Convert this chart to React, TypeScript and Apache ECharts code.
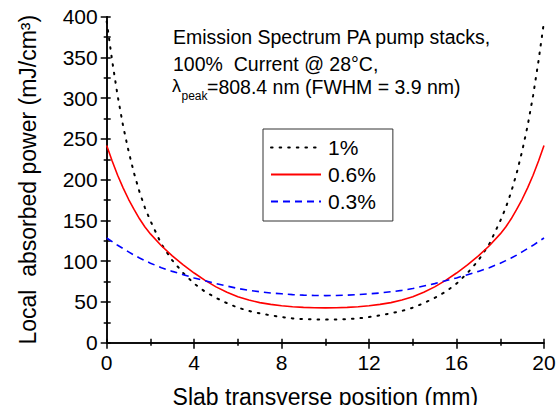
import React, { useEffect, useRef } from "react";
import * as echarts from "echarts";

// Slab transverse position (mm)
const positions = [
  0, 0.25, 0.5, 0.75, 1, 1.25, 1.5, 1.75, 2, 2.5, 3, 3.5, 4, 4.5, 5, 5.5, 6, 6.5, 7, 7.5, 8, 8.5, 9, 9.5, 10,
  10.5, 11, 11.5, 12, 12.5, 13, 13.5, 14, 14.5, 15, 15.5, 16, 16.5, 17, 17.5, 18, 18.25, 18.5, 18.75, 19, 19.25, 19.5, 19.75, 20,
];

// Local absorbed power (mJ/cm^3)
const doping1 = [
  394, 346, 303, 266, 235, 208, 185, 165.5, 149.5, 121, 101, 85.5, 72.5, 62.5, 55, 48.5, 43, 39, 36, 33.5, 31.5, 29.8, 29, 28.5, 28.3,
  28.5, 29, 29.8, 31.5, 33.5, 36, 39, 43, 48.5, 55, 62.5, 72.5, 85.5, 101, 121, 149.5, 165.5, 185, 208, 235, 266, 303, 346, 394,
];
const doping06 = [
  242, 223, 205.5, 190, 176, 163.5, 152, 142, 133.5, 119, 106.5, 95.5, 85.5, 76.5, 68.5, 62, 56.5, 52.3, 49.2, 47, 45.3, 44.1, 43.3, 42.9, 42.7,
  42.9, 43.3, 44.1, 45.3, 47, 49.2, 52.3, 56.5, 62, 68.5, 76.5, 85.5, 95.5, 106.5, 119, 133.5, 142, 152, 163.5, 176, 190, 205.5, 223, 242,
];
const doping03 = [
  128.5, 124, 119.5, 115.5, 111.5, 107.5, 104, 100.7, 97.6, 92, 87.5, 83.5, 79.5, 76, 72.5, 69.5, 66.5, 64.2, 62.5, 61, 60, 59, 58.4, 58, 57.8,
  58, 58.4, 59, 60, 61, 62.5, 64.2, 66.5, 69.5, 72.5, 76, 79.5, 83.5, 87.5, 92, 97.6, 100.7, 104, 107.5, 111.5, 115.5, 119.5, 124, 128.5,
];

const seriesNames = ["1%", "0.6%", "0.3%"];

const xTitle = "Slab transverse position (mm)";
const yTitle = "Local  absorbed power (mJ/cm³)";
const noteLine1 = "Emission Spectrum PA pump stacks,";
const noteLine2 = "100%  Current @ 28°C,";
const noteLambda = "λ";
const noteSub = "peak";
const noteLine3 = "=808.4 nm (FWHM = 3.9 nm)";

const FONT = "'Liberation Sans', Arial, sans-serif";

export default function App() {
  const ref = useRef<HTMLDivElement>(null);

  useEffect(() => {
    if (!ref.current) return;
    const chart = echarts.init(ref.current, null, { renderer: "svg" });
    const toPairs = (vals: number[]) => positions.map((x, i) => [x, vals[i]]);
    const axisLine = { show: true, lineStyle: { color: "#000", width: 1.5 } };

    chart.setOption({
      animation: false,
      backgroundColor: "#fff",
      textStyle: { fontFamily: FONT },
      grid: {
        left: 106.7,
        right: 12,
        top: 16.7,
        bottom: 62.3,
        containLabel: false,
        outerBoundsMode: "none",
      },
      legend: {
        data: seriesNames,
        orient: "vertical",
        left: 263,
        top: 129,
        itemWidth: 50,
        itemHeight: 14,
        itemGap: 6,
        padding: [8, 17, 9, 7],
        borderColor: "#333",
        borderWidth: 1,
        itemStyle: { opacity: 0 },
        textStyle: { fontSize: 21, color: "#000", fontFamily: FONT, padding: [0, 0, 0, 2] },
      },
      xAxis: [
        {
          type: "value",
          position: "bottom",
          min: 0,
          max: 20,
          interval: 4,
          name: xTitle,
          nameLocation: "middle",
          nameGap: 43,
          nameTextStyle: { fontSize: 23, color: "#000", fontFamily: FONT },
          axisLine,
          axisTick: { show: true, inside: false, length: 6, lineStyle: { color: "#000", width: 1.5 } },
          minorTick: { show: true, splitNumber: 2, length: 3, lineStyle: { color: "#000", width: 1.5 } },
          splitLine: { show: false },
          axisLabel: { fontSize: 21, color: "#000", margin: 9, fontFamily: FONT },
        },
        {
          type: "value",
          position: "top",
          min: 0,
          max: 20,
          interval: 2,
          axisLine,
          axisTick: { show: true, inside: false, length: 4, lineStyle: { color: "#000", width: 1.5 } },
          splitLine: { show: false },
          axisLabel: { show: false },
        },
      ],
      yAxis: [
        {
          type: "value",
          position: "left",
          min: 0,
          max: 400,
          interval: 50,
          name: yTitle,
          nameLocation: "middle",
          nameGap: 67,
          nameTextStyle: { fontSize: 23, color: "#000", fontFamily: FONT },
          axisLine,
          axisTick: { show: true, inside: false, length: 6, lineStyle: { color: "#000", width: 1.5 } },
          minorTick: { show: true, splitNumber: 2, length: 3, lineStyle: { color: "#000", width: 1.5 } },
          splitLine: { show: false },
          axisLabel: { fontSize: 21, color: "#000", margin: 9, fontFamily: FONT },
        },
        {
          type: "value",
          position: "right",
          min: 0,
          max: 400,
          interval: 25,
          axisLine,
          axisTick: { show: true, inside: false, length: 4, lineStyle: { color: "#000", width: 1.5 } },
          splitLine: { show: false },
          axisLabel: { show: false },
        },
      ],
      series: [
        {
          name: seriesNames[0],
          type: "line",
          data: toPairs(doping1),
          smooth: false,
          symbol: "none",
          lineStyle: { color: "#000", width: 2, type: [1.6, 7], cap: "round" },
          itemStyle: { color: "#000", opacity: 0 },
        },
        {
          name: seriesNames[1],
          type: "line",
          data: toPairs(doping06),
          smooth: false,
          symbol: "none",
          lineStyle: { color: "#ff0000", width: 1.6, type: "solid" },
          itemStyle: { color: "#ff0000", opacity: 0 },
        },
        {
          name: seriesNames[2],
          type: "line",
          data: toPairs(doping03),
          smooth: false,
          symbol: "none",
          lineStyle: { color: "#0000ff", width: 1.6, type: [7, 5] },
          itemStyle: { color: "#0000ff", opacity: 0 },
        },
      ],
      graphic: [
        {
          type: "text",
          left: 173,
          top: 27,
          style: { text: noteLine1, font: `19.5px ${FONT}`, fill: "#000" },
        },
        {
          type: "text",
          left: 173,
          top: 54,
          style: { text: noteLine2, font: `19.5px ${FONT}`, fill: "#000" },
        },
        {
          type: "text",
          left: 172,
          top: 77,
          style: { text: noteLambda, font: `18px ${FONT}`, fill: "#000" },
        },
        {
          type: "text",
          left: 181.5,
          top: 90,
          style: { text: noteSub, font: `12px ${FONT}`, fill: "#000" },
        },
        {
          type: "text",
          left: 207,
          top: 77,
          style: { text: noteLine3, font: `19.5px ${FONT}`, fill: "#000" },
        },
      ],
    });

    return () => chart.dispose();
  }, []);

  return (
    <div
      ref={ref}
      style={{ position: "fixed", left: 0, top: 0, width: 556, height: 405, background: "#fff" }}
    />
  );
}
